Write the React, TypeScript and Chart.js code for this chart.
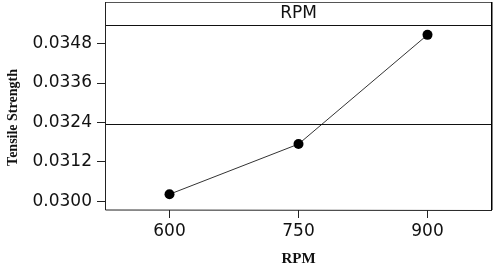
import React, { useEffect, useRef } from "react";
import { Chart, registerables } from "chart.js";

Chart.register(...registerables);

const rpmLevels = [600, 750, 900];
const tensileMeans = [0.03021, 0.03174, 0.03507];
const yTicks = [0.03, 0.0312, 0.0324, 0.0336, 0.0348];
const xTicks = [600, 750, 900];
const xRange = [525, 975];
const yRange = [0.02973, 0.03537];
const panelTitle = "RPM";
const xTitle = "RPM";
const yTitle = "Tensile Strength";

const grandMean = tensileMeans.reduce((a, b) => a + b, 0) / tensileMeans.length;

const framePlugin = {
  id: "frame",
  afterDraw(chart: any) {
    const { ctx, chartArea } = chart;
    const yScale = chart.scales.y;
    const titleTop = chart.titleBlock ? chart.titleBlock.top : chartArea.top - 23;
    ctx.save();
    const yMean = yScale.getPixelForValue(grandMean);
    ctx.strokeStyle = "#111";
    ctx.lineWidth = 1;
    ctx.beginPath();
    ctx.moveTo(chartArea.left, Math.round(yMean) + 0.5);
    ctx.lineTo(chartArea.right, Math.round(yMean) + 0.5);
    ctx.stroke();
    ctx.beginPath();
    ctx.moveTo(chartArea.left, Math.round(chartArea.top) + 0.5);
    ctx.lineTo(chartArea.right, Math.round(chartArea.top) + 0.5);
    ctx.stroke();
    ctx.strokeStyle = "#555";
    ctx.beginPath();
    ctx.moveTo(chartArea.left, Math.round(titleTop) + 0.5);
    ctx.lineTo(chartArea.right, Math.round(titleTop) + 0.5);
    ctx.stroke();
    ctx.strokeStyle = "#222";
    ctx.beginPath();
    ctx.moveTo(Math.round(chartArea.left) + 0.5, titleTop);
    ctx.lineTo(Math.round(chartArea.left) + 0.5, chartArea.bottom);
    ctx.lineTo(chartArea.right, Math.round(chartArea.bottom) + 0.5);
    ctx.stroke();
    ctx.strokeStyle = "#000";
    ctx.lineWidth = 1.5;
    ctx.beginPath();
    ctx.moveTo(Math.round(chartArea.right) - 0.25, titleTop);
    ctx.lineTo(Math.round(chartArea.right) - 0.25, chartArea.bottom);
    ctx.stroke();
    ctx.restore();
  },
};

export default function App() {
  const ref = useRef<HTMLCanvasElement | null>(null);
  useEffect(() => {
    if (!ref.current) return;
    const chart = new Chart(ref.current, {
      type: "line",
      data: {
        datasets: [
          {
            data: rpmLevels.map((x, i) => ({ x, y: tensileMeans[i] })),
            borderColor: "#333",
            borderWidth: 1,
            pointRadius: 5,
            pointBackgroundColor: "#000",
            pointBorderColor: "#000",
            pointBorderWidth: 0,
            tension: 0,
          },
        ],
      },
      options: {
        animation: false,
        responsive: false,
        layout: { padding: { top: 2, left: 0, right: 11, bottom: 0 } },
        plugins: {
          legend: { display: false },
          tooltip: { enabled: false },
          title: {
            display: true,
            fullSize: false,
            text: panelTitle,
            color: "#111",
            font: { family: "DejaVu Sans", size: 17, weight: "normal", lineHeight: 1 },
            padding: { top: 3, bottom: 3 },
          },
        },
        scales: {
          x: {
            type: "linear",
            min: xRange[0],
            max: xRange[1],
            afterBuildTicks: (s: any) => {
              s.ticks = xTicks.map((v) => ({ value: v }));
            },
            afterFit: (s: any) => {
              s.height = 60;
            },
            grid: { drawOnChartArea: false, tickLength: 8, color: "#222" },
            border: { display: false },
            ticks: {
              color: "#111",
              font: { family: "DejaVu Sans", size: 17 },
              padding: 3,
              maxRotation: 0,
              callback: (v: any) => String(v),
            },
            title: {
              display: true,
              text: xTitle,
              color: "#111",
              font: { family: "Liberation Serif", size: 15, weight: "bold" },
              padding: { top: 0, bottom: 2 },
            },
          },
          y: {
            type: "linear",
            min: yRange[0],
            max: yRange[1],
            afterBuildTicks: (s: any) => {
              s.ticks = yTicks.map((v) => ({ value: v }));
            },
            afterFit: (s: any) => {
              s.width = 105;
            },
            grid: { drawOnChartArea: false, tickLength: 8, color: "#222" },
            border: { display: false },
            ticks: {
              color: "#111",
              font: { family: "DejaVu Sans", size: 17 },
              padding: 5,
              callback: (v: any) => Number(v).toFixed(4),
            },
            title: {
              display: true,
              text: yTitle,
              color: "#111",
              font: { family: "Liberation Serif", size: 14, weight: "bold" },
              padding: { top: 5, bottom: 0 },
            },
          },
        },
      },
      plugins: [framePlugin],
    } as any);
    return () => chart.destroy();
  }, []);
  return (
    <div style={{ position: "fixed", left: 0, top: 0, width: 503, height: 270, background: "#fff" }}>
      <canvas ref={ref} width={503} height={270} style={{ display: "block" }} />
    </div>
  );
}
